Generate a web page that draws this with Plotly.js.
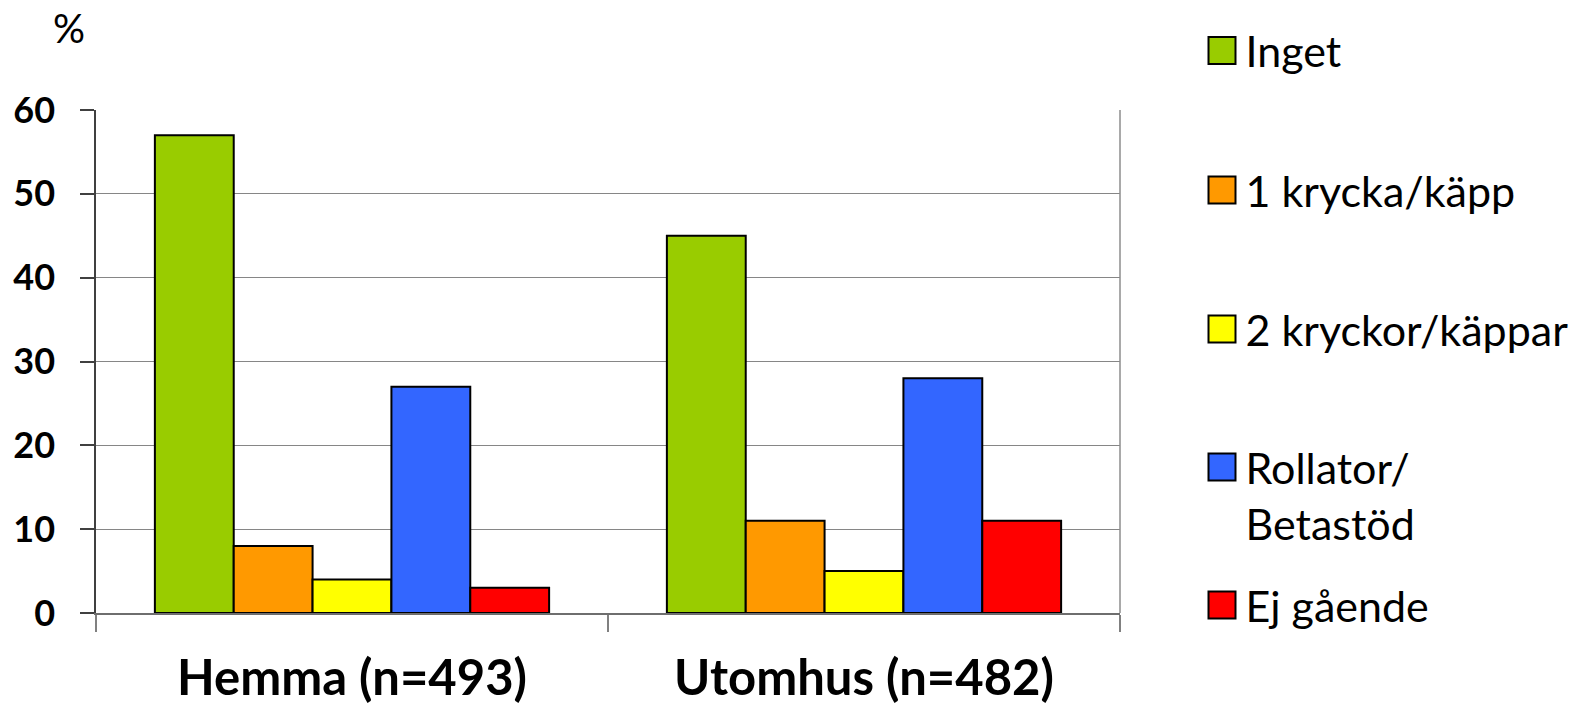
<!DOCTYPE html>
<html>
<head>
<meta charset="utf-8">
<script src="https://cdn.plot.ly/plotly-3.0.1.min.js"></script>
<style>
  html, body { margin: 0; padding: 0; background: #ffffff; }
  #chart { width: 1585px; height: 705px; }
</style>
</head>
<body>
<div id="chart"></div>
<script>
// ---- Data ----
const categories = ['Hemma (n=493)', 'Utomhus (n=482)'];
const seriesNames = ['Inget', '1 krycka/käpp', '2 kryckor/käppar', 'Rollator/<br>Betastöd', 'Ej gående'];
const inget = [57, 45];
const enKrycka = [8, 11];
const tvaKryckor = [4, 5];
const rollator = [27, 28];
const ejGaende = [3, 11];
const yTickVals = [0, 10, 20, 30, 40, 50, 60];

// ---- Styling ----
const seriesValues = [inget, enKrycka, tvaKryckor, rollator, ejGaende];
const colors = ['#99CC00', '#FF9900', '#FFFF00', '#3366FF', '#FF0000'];
const legendIds = ['legend2', 'legend3', 'legend4', 'legend5', 'legend6'];
const FONT = 'Lato, "Open Sans", sans-serif';
const W = 1585, H = 705;

const data = seriesNames.map((name, i) => ({
  type: 'bar',
  name: name,
  x: categories,
  y: seriesValues[i],
  legend: legendIds[i],
  marker: { color: colors[i], line: { color: '#000000', width: 2 } },
  hoverinfo: 'x+y+name'
}));

// legend row centres (pixels from top) measured on the reference
const legendCentersY = [50.5, 190, 329, 467, 605];
const legendSymbolX = 1220.5;
const FS_LEGEND = 43;

const layout = {
  width: W, height: H,
  paper_bgcolor: '#ffffff', plot_bgcolor: '#ffffff',
  margin: { l: 96, r: 465, t: 110, b: 92, pad: 0 },
  barmode: 'group',
  bargap: 0.23,
  bargroupgap: 0,
  font: { family: FONT, color: '#000000' },
  showlegend: true,
  xaxis: {
    type: 'category',
    categoryorder: 'array',
    categoryarray: categories,
    tickson: 'boundaries',
    ticks: 'outside', ticklen: 17, tickwidth: 1.5, tickcolor: '#808080',
    showline: true, linecolor: '#6e6e6e', linewidth: 1.5,
    showgrid: false, zeroline: false,
    tickfont: { family: FONT, size: 49, weight: 'bold', color: '#000000' },
    ticklabelstandoff: 21,
    fixedrange: true
  },
  yaxis: {
    range: [0, 60],
    tickmode: 'array', tickvals: yTickVals, ticktext: yTickVals.map(String),
    ticks: 'outside', ticklen: 14, tickwidth: 1.5, tickcolor: '#404040',
    showline: true, linecolor: '#404040', linewidth: 1.5,
    showgrid: true, gridcolor: '#868686', gridwidth: 1,
    zeroline: false,
    tickfont: { family: FONT, size: 36, weight: 'bold', color: '#000000' },
    ticklabelstandoff: 18,
    fixedrange: true
  },
  shapes: [
    { type: 'line', xref: 'paper', yref: 'paper', x0: 1, x1: 1, y0: 0, y1: 1,
      line: { color: '#8c8c8c', width: 1.5 } }
  ],
  annotations: [
    { text: '%', xref: 'paper', yref: 'paper', x: -27 / 1024, y: (612.5 - 28) / 502.5,
      xanchor: 'center', yanchor: 'middle', showarrow: false,
      font: { family: FONT, size: 40, color: '#000000' } }
  ]
};

legendIds.forEach((id, i) => {
  // two-line entry: centre the block so its first line sits on its row
  const cy = i === 3 ? legendCentersY[i] + FS_LEGEND * 1.3 / 2 : legendCentersY[i];
  layout[id] = {
    xref: 'container', yref: 'container',
    x: (legendSymbolX - 22) / W,
    y: 1 - cy / H,
    xanchor: 'left',
    yanchor: 'middle',
    valign: 'top',
    bgcolor: 'rgba(0,0,0,0)', borderwidth: 0,
    itemwidth: 37,
    font: { family: FONT, size: FS_LEGEND, color: '#000000' },
    itemclick: false, itemdoubleclick: false
  };
});

Plotly.newPlot('chart', data, layout, { displayModeBar: false }).then(gd => {
  // enlarge legend squares to match the reference (27px boxes)
  gd.querySelectorAll('.legendpoints path').forEach(p => {
    const t = p.getAttribute('transform') || '';
    p.setAttribute('transform', t + ' scale(2.25)');
    p.style.vectorEffect = 'non-scaling-stroke';
  });
});
</script>
</body>
</html>
